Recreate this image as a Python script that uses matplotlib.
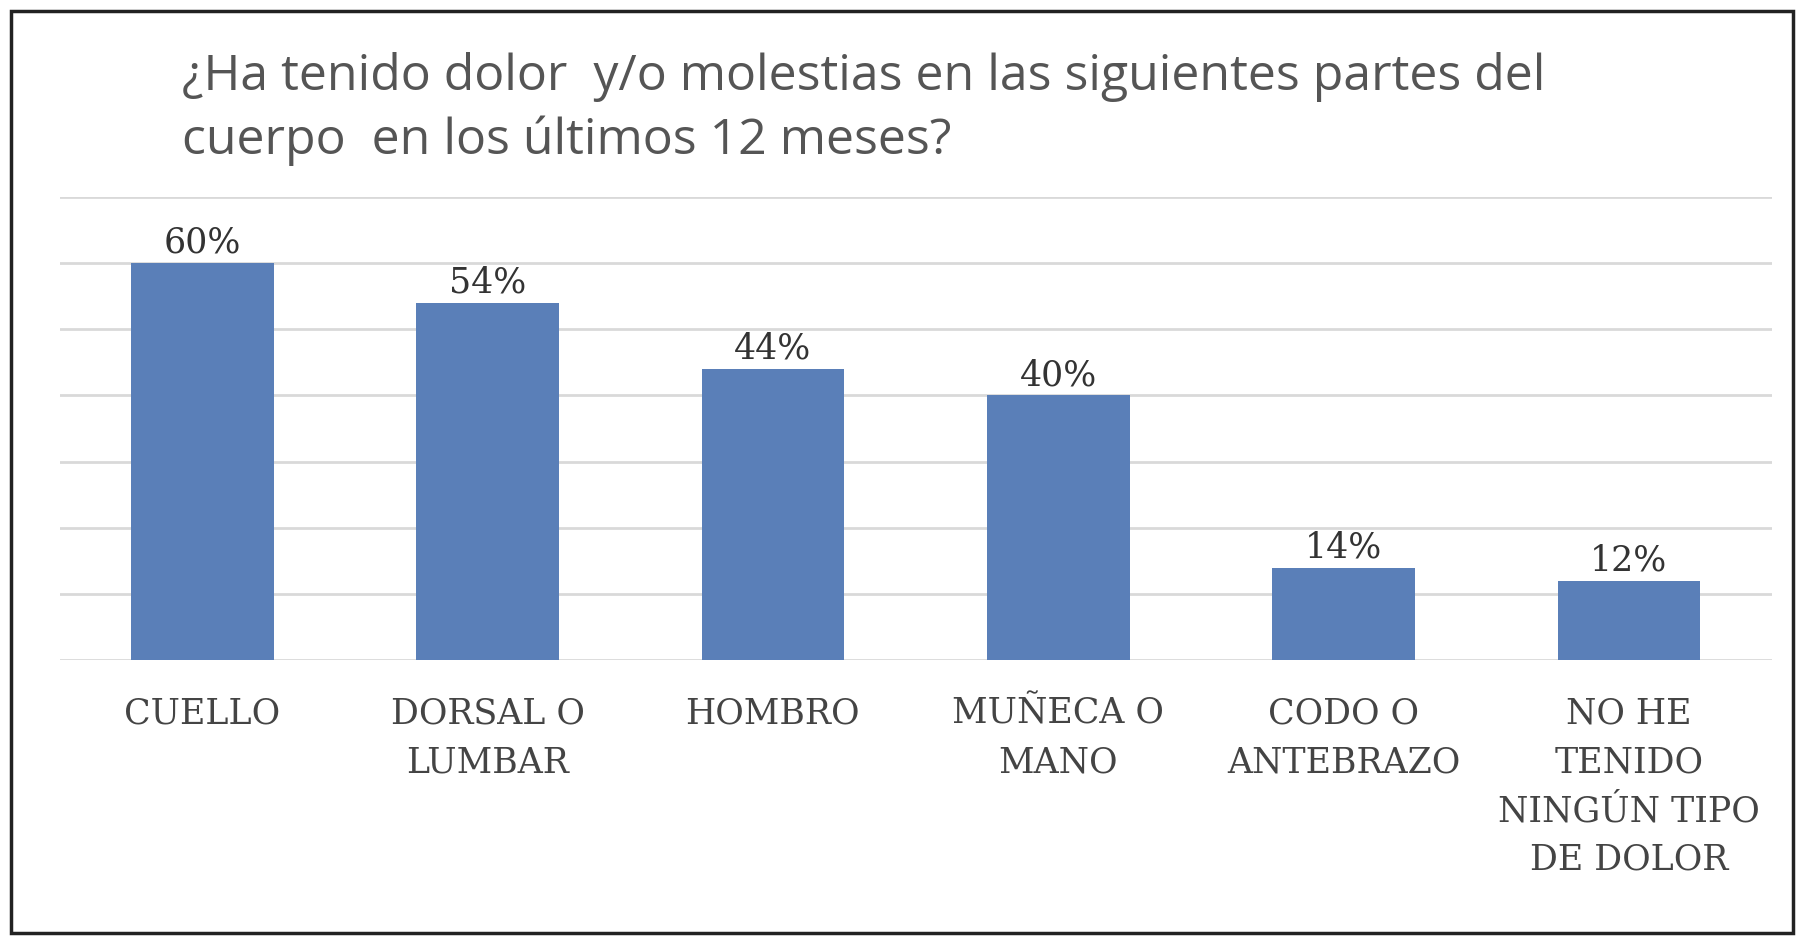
import matplotlib
matplotlib.use("Agg")
import matplotlib.pyplot as plt
from matplotlib.patches import Rectangle

categories = ["CUELLO", "DORSAL O\nLUMBAR", "HOMBRO", "MUÑECA O\nMANO", "CODO O\nANTEBRAZO", "NO HE\nTENIDO\nNINGÚN TIPO\nDE DOLOR"]
values = [60, 54, 44, 40, 14, 12]
title = "¿Ha tenido dolor  y/o molestias en las siguientes partes del\ncuerpo  en los últimos 12 meses?"

fig = plt.figure(figsize=(18.04, 9.5), dpi=100)
fig.patches.append(Rectangle((0.006, 0.018), 0.988, 0.97, transform=fig.transFigure,
                             fill=False, edgecolor="#222222", linewidth=2.5))
ax = fig.add_axes([0.033, 0.305, 0.949, 0.488])
x = range(len(values))
bars = ax.bar(x, values, width=0.5, color="#5A7FB8", zorder=3)
ax.set_ylim(0, 70)
ax.set_xlim(-0.5, len(values) - 0.5)
ax.set_yticks(range(0, 71, 10))
ax.yaxis.grid(True, color="#D9D9D9", linewidth=2)
ax.tick_params(axis="y", left=False, labelleft=False)
ax.tick_params(axis="x", length=0, pad=26)
ax.set_xticks(list(x))
ax.set_xticklabels(categories, fontfamily="DejaVu Serif", fontsize=25, color="#444444", linespacing=1.55)
for s in ax.spines.values():
    s.set_visible(False)
for b, v in zip(bars, values):
    ax.text(b.get_x() + b.get_width() / 2, v + 0.5, f"{v}%", ha="center", va="bottom",
            fontfamily="DejaVu Serif", fontsize=25, color="#333333")
fig.text(0.101, 0.945, title, ha="left", va="top", fontfamily="Open Sans", fontsize=36,
         color="#555555", linespacing=1.35)
fig.savefig("out.png", dpi=100)
